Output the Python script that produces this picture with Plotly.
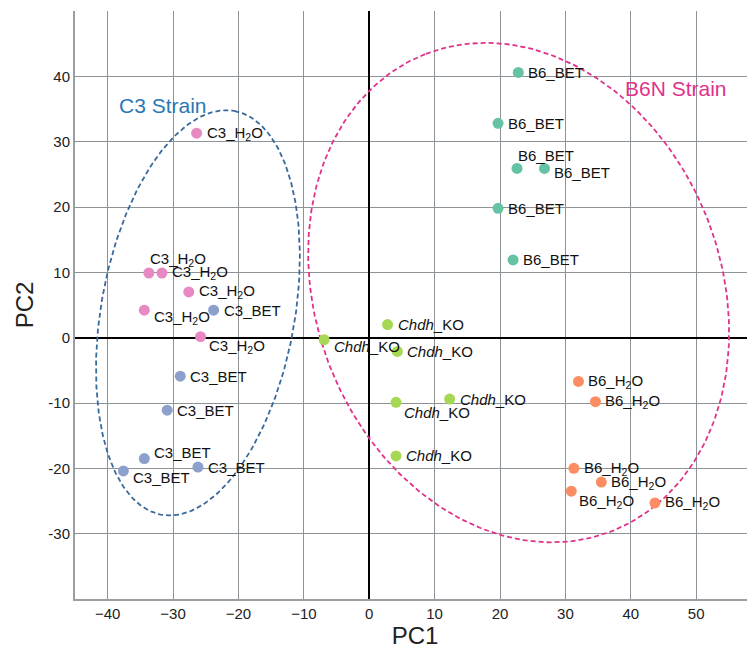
import numpy as np
import plotly.graph_objects as go

# ---- data ----
c3_h2o_x = [-26.4, -33.7, -31.7, -27.6, -34.4, -25.8]
c3_h2o_y = [31.3, 9.9, 9.9, 7.0, 4.2, 0.15]
c3_h2o_pos = ["r", "a", "r", "r", "br", "b"]

c3_bet_x = [-23.8, -28.9, -30.9, -34.4, -37.6, -26.2]
c3_bet_y = [4.2, -5.9, -11.1, -18.5, -20.4, -19.8]
c3_bet_pos = ["r", "r", "r", "ur", "br", "r"]

ko_x = [2.8, -6.9, 4.3, 12.3, 4.1, 4.1]
ko_y = [2.0, -0.3, -2.1, -9.4, -9.9, -18.1]
ko_pos = ["r", "br", "r", "r", "b", "r"]

b6_bet_x = [22.8, 19.7, 22.6, 26.8, 19.7, 22.0]
b6_bet_y = [40.6, 32.8, 25.9, 25.9, 19.8, 11.9]
b6_bet_pos = ["r", "r", "a", "sr", "r", "r"]

b6_h2o_x = [32.0, 34.6, 31.3, 35.5, 30.9, 43.7]
b6_h2o_y = [-6.7, -9.8, -20.0, -22.1, -23.5, -25.3]
b6_h2o_pos = ["r", "r", "r", "r", "b", "r"]

x_ticks = [-40, -30, -20, -10, 0, 10, 20, 30, 40, 50]
y_ticks = [-40, -30, -20, -10, 0, 10, 20, 30, 40, 50]
y_ticktext = ["", "-30", "-20", "-10", "0", "10", "20", "30", "40", ""]

groups = [
    ("C3_H<sub>2</sub>O", c3_h2o_x, c3_h2o_y, c3_h2o_pos, "#e78ac3"),
    ("C3_BET", c3_bet_x, c3_bet_y, c3_bet_pos, "#8da0cb"),
    ("<i>Chdh</i>_KO", ko_x, ko_y, ko_pos, "#a6d854"),
    ("B6_BET", b6_bet_x, b6_bet_y, b6_bet_pos, "#66c2a5"),
    ("B6_H<sub>2</sub>O", b6_h2o_x, b6_h2o_y, b6_h2o_pos, "#fc8d62"),
]

# label placement style: (dx, dy) in px from marker centre to label's left-middle
PLACE = {"r": (8, 0), "a": (-1, -13), "ur": (8, -6), "br": (8, 7), "b": (6, 10), "sr": (8, 4)}

FONT = "Liberation Sans, Arial"

fig = go.Figure()


def ellipse(cx, cy, a, b, theta_deg):
    t = np.linspace(0, 2 * np.pi, 300)
    th = np.deg2rad(theta_deg)
    ux, uy = np.sin(th), np.cos(th)
    vx, vy = np.cos(th), -np.sin(th)
    x = cx + a * np.cos(t) * ux + b * np.sin(t) * vx
    y = cy + a * np.cos(t) * uy + b * np.sin(t) * vy
    return x, y


ex, ey = ellipse(-26.2, 3.8, 31.4, 14.8, 10.2)
fig.add_trace(go.Scatter(x=ex, y=ey, mode="lines", hoverinfo="skip",
                         line=dict(color="#3a6a9a", width=1.8, dash="5px,3px")))
ex, ey = ellipse(22.85, 6.9, 39.2, 31.0, -21.2)
fig.add_trace(go.Scatter(x=ex, y=ey, mode="lines", hoverinfo="skip",
                         line=dict(color="#e0328a", width=1.8, dash="5px,3px")))

for label, xs, ys, pos, col in groups:
    fig.add_trace(go.Scatter(
        x=xs, y=ys, mode="markers",
        marker=dict(size=11, color=col),
    ))
    for xv, yv, p in zip(xs, ys, pos):
        dx, dy = PLACE[p]
        fig.add_annotation(x=xv, y=yv, text=label, showarrow=False,
                           xanchor="left", yanchor="middle",
                           xshift=dx, yshift=-dy,
                           font=dict(size=15, color="#111111", family=FONT))

fig.add_annotation(x=-31.6, y=35.6, text="C3 Strain", showarrow=False,
                   font=dict(size=21, color="#2a78b8", family=FONT))
fig.add_annotation(x=46.9, y=38.1, text="B6N Strain", showarrow=False,
                   font=dict(size=21, color="#e0328a", family=FONT))

axis_common = dict(
    showgrid=True, gridcolor="#8e9398", gridwidth=1.3,
    zeroline=True, zerolinecolor="#000000", zerolinewidth=2,
    showline=True, linecolor="#9a9ea2", linewidth=2,
    ticks="", automargin=False,
    tickfont=dict(size=15, color="#222222", family=FONT),
)

fig.update_xaxes(range=[-45, 59], tickvals=x_ticks, **axis_common,
                 title=dict(text="PC1", font=dict(size=24, color="#222222", family=FONT),
                            standoff=6))
fig.update_yaxes(range=[-40, 50], tickvals=y_ticks, ticktext=y_ticktext, **axis_common,
                 title=dict(text="PC2", font=dict(size=24, color="#222222", family=FONT),
                            standoff=8))

fig.update_layout(
    width=747, height=651,
    margin=dict(l=67, r=0, t=3, b=60, autoexpand=False),
    plot_bgcolor="white", paper_bgcolor="white",
    showlegend=False,
    font=dict(family=FONT),
)

fig.write_html("out.html")
